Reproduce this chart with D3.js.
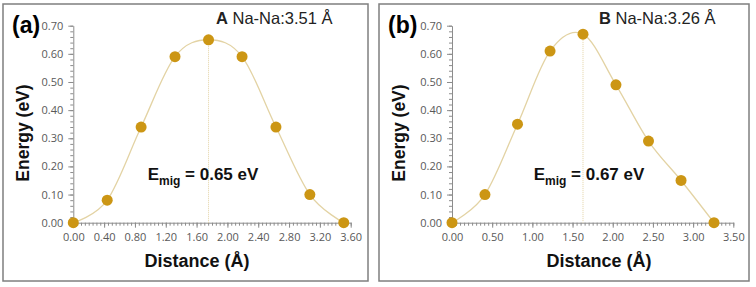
<!DOCTYPE html>
<html>
<head>
<meta charset="utf-8">
<script src="https://cdn.jsdelivr.net/npm/d3@7"></script>
<style>
  body { margin: 0; background: #fff; }
  svg { display: block; }
  .tick text { font-family: "Open Sans", sans-serif; }
</style>
</head>
<body>
<div id="visualization"></div>
<script>
let w = 756;
let h = 287;

// panel (a) data
let distA = [0, 0.44, 0.88, 1.32, 1.755, 2.19, 2.63, 3.07, 3.51];
let energyA = [0, 0.08, 0.34, 0.59, 0.65, 0.59, 0.34, 0.10, 0];
let xTicksA = [0, 0.4, 0.8, 1.2, 1.6, 2.0, 2.4, 2.8, 3.2, 3.6];

// panel (b) data
let distB = [0, 0.41, 0.815, 1.22, 1.63, 2.04, 2.445, 2.85, 3.26];
let energyB = [0, 0.10, 0.35, 0.61, 0.67, 0.49, 0.29, 0.15, 0];
let xTicksB = [0, 0.5, 1.0, 1.5, 2.0, 2.5, 3.0, 3.5];

let yTicks = [0, 0.1, 0.2, 0.3, 0.4, 0.5, 0.6, 0.7];

let markerColor = "#cc9614";
let lineColor = "#e3d3a4";
let axisColor = "#8c8c8c";

let viz = d3.select("#visualization")
  .append("svg")
  .attr("width", w)
  .attr("height", h);

function drawPanel(p) {
  let g = viz.append("g");

  // frame round the panel
  g.append("rect")
    .attr("x", p.box[0]).attr("y", p.box[1])
    .attr("width", p.box[2]).attr("height", p.box[3])
    .attr("fill", "none")
    .attr("stroke", "#7f7f7f")
    .attr("stroke-width", 1.5);

  let xScale = d3.scaleLinear().domain([0, p.xMax]).range(p.xRange);
  let yScale = d3.scaleLinear().domain([0, 0.7]).range([222.7, 25.7]);

  // minor ticks
  let xMinor = d3.range(0, p.xMax + 0.001, 0.05);
  let yMinor = d3.range(0, 0.7001, 0.02);
  g.append("g").attr("transform", "translate(0," + yScale(0) + ")")
    .call(d3.axisBottom(xScale).tickValues(xMinor).tickSize(3).tickFormat(""))
    .call(a => a.select(".domain").remove())
    .selectAll("line").attr("stroke", axisColor);
  g.append("g").attr("transform", "translate(" + xScale(0) + ",0)")
    .call(d3.axisLeft(yScale).tickValues(yMinor).tickSize(3).tickFormat(""))
    .call(a => a.select(".domain").remove())
    .selectAll("line").attr("stroke", axisColor);

  // major axes
  let xAxis = g.append("g").attr("transform", "translate(0," + yScale(0) + ")")
    .call(d3.axisBottom(xScale).tickValues(p.xTicks).tickSize(5).tickSizeOuter(0).tickFormat(d3.format(".2f")));
  let yAxis = g.append("g").attr("transform", "translate(" + xScale(0) + ",0)")
    .call(d3.axisLeft(yScale).tickValues(yTicks).tickSize(5).tickSizeOuter(0).tickFormat(d3.format(".2f")));
  [xAxis, yAxis].forEach(a => {
    a.select(".domain").attr("stroke", axisColor);
    a.selectAll(".tick line").attr("stroke", axisColor);
    a.selectAll(".tick text").attr("fill", "#595959").style("font-size", "11px");
  });
  xAxis.selectAll(".tick text").attr("dy", "0.95em");
  yAxis.selectAll(".tick text").attr("x", -10);

  // dotted line under the barrier top
  let iMax = d3.maxIndex(p.energy);
  g.append("line")
    .attr("x1", xScale(p.dist[iMax])).attr("x2", xScale(p.dist[iMax]))
    .attr("y1", yScale(p.energy[iMax])).attr("y2", yScale(0))
    .attr("stroke", lineColor)
    .attr("stroke-width", 1)
    .attr("stroke-dasharray", "1,1");

  let pts = p.dist.map((d, i) => [d, p.energy[i]]);
  let line = d3.line()
    .x(d => xScale(d[0]))
    .y(d => yScale(d[1]))
    .curve(d3.curveCardinal.tension(0));
  g.append("path")
    .datum(pts)
    .attr("d", line)
    .attr("fill", "none")
    .attr("stroke", lineColor)
    .attr("stroke-width", 1.3);

  g.selectAll(".datapoint").data(pts).enter()
    .append("circle")
    .attr("class", "datapoint")
    .attr("fill", markerColor)
    .attr("cx", d => xScale(d[0]))
    .attr("cy", d => yScale(d[1]))
    .attr("r", 5.5);

  // panel letter
  g.append("text")
    .attr("x", p.box[0] + 9).attr("y", 33)
    .attr("font-family", "Liberation Sans, Arial, sans-serif")
    .attr("font-weight", "bold")
    .attr("font-size", 23)
    .text(p.letter);

  // title
  let t = g.append("text")
    .attr("x", p.titleX).attr("y", 24)
    .attr("font-family", "Liberation Sans, Arial, sans-serif")
    .attr("font-size", 16.5)
    .attr("fill", "#222");
  t.append("tspan").attr("font-weight", "bold").text(p.site);
  t.append("tspan").text(" Na-Na:" + p.nana + " Å");

  // axis titles
  g.append("text")
    .attr("transform", "translate(" + (p.box[0] + 20) + ",133) rotate(-90)")
    .attr("text-anchor", "middle")
    .attr("dy", "0.35em")
    .attr("font-family", "Liberation Sans, Arial, sans-serif")
    .attr("font-weight", "bold")
    .attr("font-size", 17.5)
    .attr("fill", "#111")
    .text("Energy (eV)");
  g.append("text")
    .attr("x", p.xTitleX).attr("y", 267)
    .attr("text-anchor", "middle")
    .attr("font-family", "Liberation Sans, Arial, sans-serif")
    .attr("font-weight", "bold")
    .attr("font-size", 18)
    .attr("fill", "#111")
    .text("Distance (Å)");

  // barrier label
  let e = g.append("text")
    .attr("x", p.emigX).attr("y", 180)
    .attr("text-anchor", "middle")
    .attr("font-family", "Liberation Sans, Arial, sans-serif")
    .attr("font-weight", "bold")
    .attr("font-size", 17)
    .attr("fill", "#111");
  e.append("tspan").text("E");
  e.append("tspan").attr("font-size", 12).attr("dy", 5).text("mig");
  e.append("tspan").attr("dy", -5).text(" = " + d3.format(".2f")(p.energy[iMax]) + " eV");
}

drawPanel({
  box: [3, 4, 365, 277],
  letter: "(a)", site: "A", nana: "3.51",
  dist: distA, energy: energyA, xTicks: xTicksA, xMax: 3.6,
  xRange: [73.3, 350.7],
  titleX: 216, xTitleX: 197, emigX: 203
});

drawPanel({
  box: [379, 4, 370, 277],
  letter: "(b)", site: "B", nana: "3.26",
  dist: distB, energy: energyB, xTicks: xTicksB, xMax: 3.5,
  xRange: [452, 733.3],
  titleX: 599, xTitleX: 599, emigX: 589
});
</script>
</body>
</html>
